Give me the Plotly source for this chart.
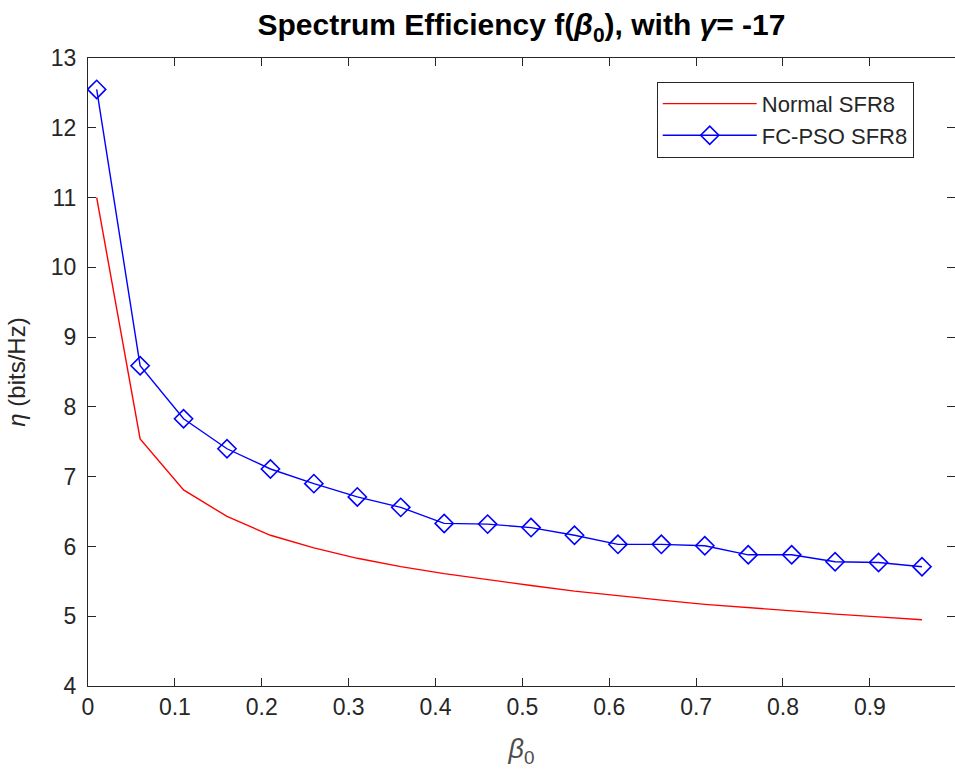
import plotly.graph_objects as go

beta0 = [0.01, 0.06, 0.11, 0.16, 0.21, 0.26, 0.31, 0.36, 0.41, 0.46,
         0.51, 0.56, 0.61, 0.66, 0.71, 0.76, 0.81, 0.86, 0.91, 0.96]
normal_sfr8 = [11.0, 7.54, 6.81, 6.43, 6.16, 5.98, 5.83, 5.71, 5.61, 5.52,
               5.44, 5.36, 5.29, 5.23, 5.17, 5.12, 5.07, 5.03, 4.99, 4.95]
fcpso_sfr8 = [12.55, 8.59, 7.83, 7.40, 7.11, 6.90, 6.71, 6.56, 6.33, 6.32,
              6.27, 6.16, 6.03, 6.03, 6.01, 5.88, 5.88, 5.78, 5.77, 5.71]
xticks = [0, 0.1, 0.2, 0.3, 0.4, 0.5, 0.6, 0.7, 0.8, 0.9, 1]
yticks = [4, 5, 6, 7, 8, 9, 10, 11, 12, 13]

FONT = "Liberation Sans, Arial, sans-serif"
AX = "#262626"

fig = go.Figure()
fig.add_trace(go.Scatter(x=beta0, y=normal_sfr8, mode="lines", name="Normal SFR8",
                         line=dict(color="#ff0000", width=1.4)))
fig.add_trace(go.Scatter(x=beta0, y=fcpso_sfr8, mode="lines+markers", name="FC-PSO SFR8",
                         line=dict(color="#0000ff", width=1.4),
                         marker=dict(symbol="diamond-open", size=14, color="#0000ff",
                                     line=dict(width=1.6, color="#0000ff"))))

axis_common = dict(showgrid=False, zeroline=False, showline=True, linecolor=AX, linewidth=1,
                   mirror="ticks", ticks="inside", ticklen=8, tickcolor=AX, tickwidth=1,
                   tickfont=dict(family=FONT, size=23, color=AX))

fig.update_xaxes(range=[0, 0.998], tickvals=xticks, ticktext=[str(v) for v in xticks],
                 ticklabelstandoff=0,
                 title=dict(text="<i>β</i><sub>0</sub>", font=dict(family=FONT, size=27, color="#4d4d4d"),
                            standoff=20),
                 **axis_common)
fig.update_yaxes(range=[4, 13], tickvals=yticks, ticklabelstandoff=6,
                 title=dict(text="<i>η</i> (bits/Hz)", font=dict(family=FONT, size=24, color=AX),
                            standoff=18),
                 **axis_common)

fig.update_layout(
    width=955, height=773,
    margin=dict(l=88, r=0, t=58, b=87),
    paper_bgcolor="white", plot_bgcolor="white",
    title=dict(text="<b>Spectrum Efficiency f(<i>β</i><sub>0</sub>), with <i>γ</i>= -17</b>",
               x=(88 + 955) / 2 / 955, xanchor="center", y=0.968, yanchor="middle",
               font=dict(family=FONT, size=30, color="black")),
    legend=dict(x=0.656, y=0.962, xanchor="left", yanchor="top",
                bgcolor="white", bordercolor=AX, borderwidth=1,
                font=dict(family=FONT, size=22, color=AX),
                itemwidth=94, tracegroupgap=0),
    showlegend=True,
)

fig.write_html("out.html")
